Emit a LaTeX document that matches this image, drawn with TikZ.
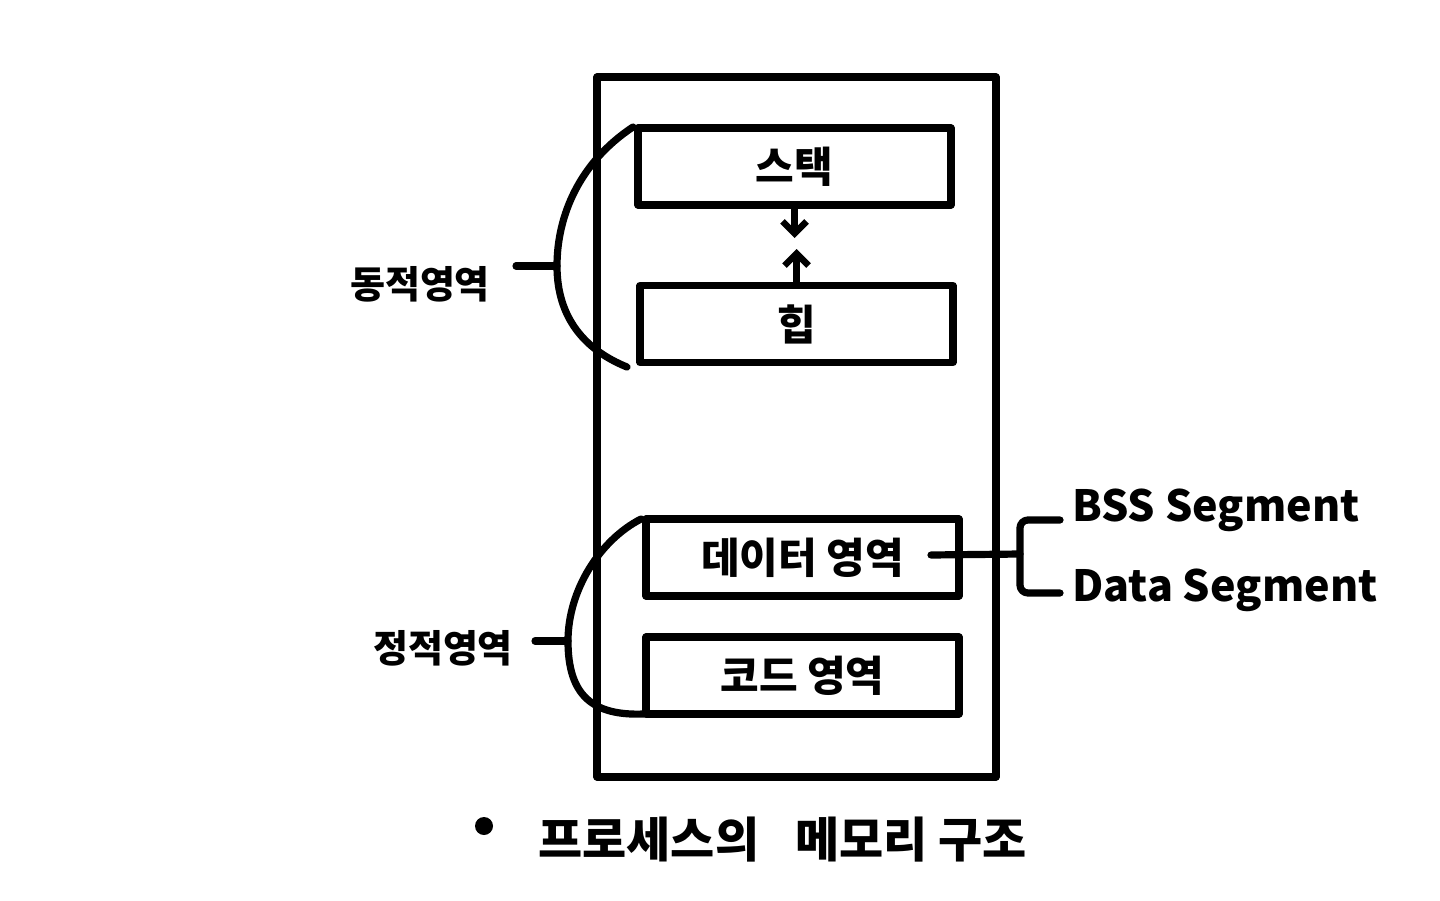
\documentclass[tikz,border=0pt]{standalone}
\usepackage{fontspec}
\newfontfamily\krfont{Noto Sans CJK KR}
\usetikzlibrary{arrows.meta, positioning}

\begin{document}
\begin{tikzpicture}[
    x=0.5pt, y=-0.5pt,
    pen/.style={line width=3.6pt, line cap=round, line join=round},
    membox/.style={rectangle, draw, pen, minimum width=199.5pt, minimum height=350pt, inner sep=0pt},
    segbox/.style={rectangle, draw, pen, minimum width=156.5pt, minimum height=38.5pt, inner sep=0pt,
                align=center, font=\krfont\bfseries\fontsize{21}{24}\selectfont},
    areatext/.style={font=\krfont\bfseries\fontsize{19}{22}\selectfont, inner sep=0pt},
    segtext/.style={anchor=west, font=\krfont\bfseries\fontsize{21.5}{26}\selectfont, inner sep=0pt},
    arrow/.style={pen, line width=3.2pt, -{Straight Barb[length=6pt, width=12pt, line width=3.2pt]}}
]
\useasboundingbox (0,0) rectangle (1440,900);

% memory layout
\node[membox] (mem) at (796.5,427) {};
\node[segbox] (stack) at (794.5,166.5) {스택};
\node[segbox] (heap) at (796.5,324) {힙};
\node[segbox] (data) at (802.5,557.5) {데이터 영역};
\node[segbox] (code) at (802.5,675.5) {코드 영역};

% stack and heap grow toward each other
\coordinate (tipdown) at (794.5,238);
\coordinate (tipup) at (796.5,249);
\draw[arrow] (stack) -- (tipdown);
\draw[arrow] (heap) -- (tipup);

% dynamic area
\coordinate (dtop) at (633,127);
\coordinate (dmid) at (557,266);
\coordinate (dbot) at (627,367);
\draw[pen] (dtop) .. controls (580,162) and (557,215) .. (dmid)
           .. controls (557,318) and (585,350) .. (dbot);
\node[areatext] (dyn) at (420,284) {동적영역};
\draw[pen] (dmid) -- (dmid -| 516,0);

% static area
\coordinate (stop) at (641,519);
\coordinate (smid) at (568,641);
\coordinate (sbot) at (644,714);
\draw[pen] (stop) .. controls (600,540) and (568,590) .. (smid)
           .. controls (568,695) and (592,716) .. (sbot);
\node[areatext] (stat) at (443,648) {정적영역};
\draw[pen] (smid) -- (smid -| 535,0);

% data segments
\coordinate (dlink) at (931,555);
\coordinate (bk) at (1020,554);
\coordinate (bssend) at (1060,520);
\coordinate (dsend) at (1060,593);
\draw[pen] (dlink) -- (bk);
\draw[pen, rounded corners=4pt] (bssend) -| (bk) |- (dsend);
\node[segtext] (bss) at (1072,510) {BSS Segment};
\node[segtext] (dseg) at (1072,590) {Data Segment};

% caption
\node[circle, fill, minimum size=9pt, inner sep=0pt] (dot) at (484,826) {};
\node[anchor=west, font=\krfont\bfseries\fontsize{24}{28}\selectfont, inner sep=0pt]
    (title) at (538,840) {프로세스의\hspace{18pt}메모리 구조};
\end{tikzpicture}
\end{document}
